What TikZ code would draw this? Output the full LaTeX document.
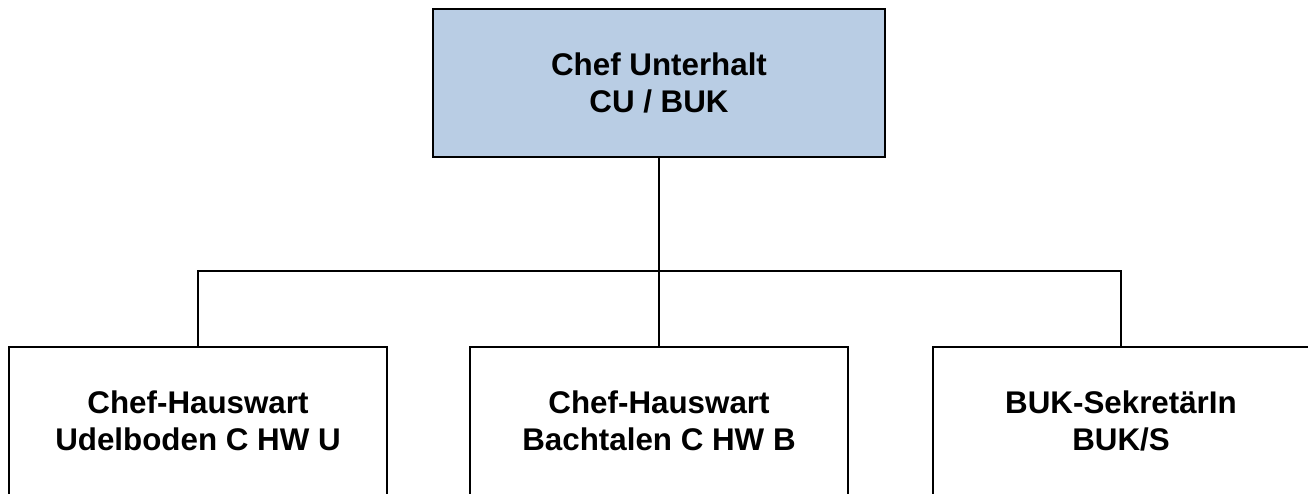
\documentclass[tikz,border=0pt]{standalone}
\usepackage{fontspec}
\setmainfont{Liberation Sans}
\definecolor{boxblue}{RGB}{185,205,228}
\begin{document}
\begin{tikzpicture}[x=0.75pt,y=-0.75pt,
  box/.style={draw=black,line width=1.5pt,rectangle,inner sep=0pt},
  lbl/.style={align=center,font=\fontsize{23.5}{27.5}\selectfont\bfseries},
  conn/.style={line width=1.5pt}]
\clip (0,0) rectangle (1308,493);
\node[box,fill=boxblue,minimum width=452*0.75pt,minimum height=148*0.75pt,lbl] (top) at (659,83) {Chef Unterhalt\\CU / BUK};
\node[box,anchor=north,minimum width=378*0.75pt,minimum height=180*0.75pt] (b1) at (198,346) {};
\node[box,anchor=north,minimum width=378*0.75pt,minimum height=180*0.75pt] (b2) at (659,346) {};
\node[box,anchor=north west,minimum width=420*0.75pt,minimum height=180*0.75pt] (b3) at (932,346) {};
\node[lbl] (t1) at (198,421) {Chef-Hauswart\\Udelboden C HW U};
\node[lbl] (t2) at (659,421) {Chef-Hauswart\\Bachtalen C HW B};
\node[lbl] (t3) at (1121,421) {BUK-SekretärIn\\BUK/S};
\coordinate (j) at (659,271);
\draw[conn] (top.south) -- (j);
\draw[conn] (b1.north) |- (j) -| ([xshift=189*0.75pt]b3.north west);
\draw[conn] (j) -- (b2.north);
\end{tikzpicture}
\end{document}
